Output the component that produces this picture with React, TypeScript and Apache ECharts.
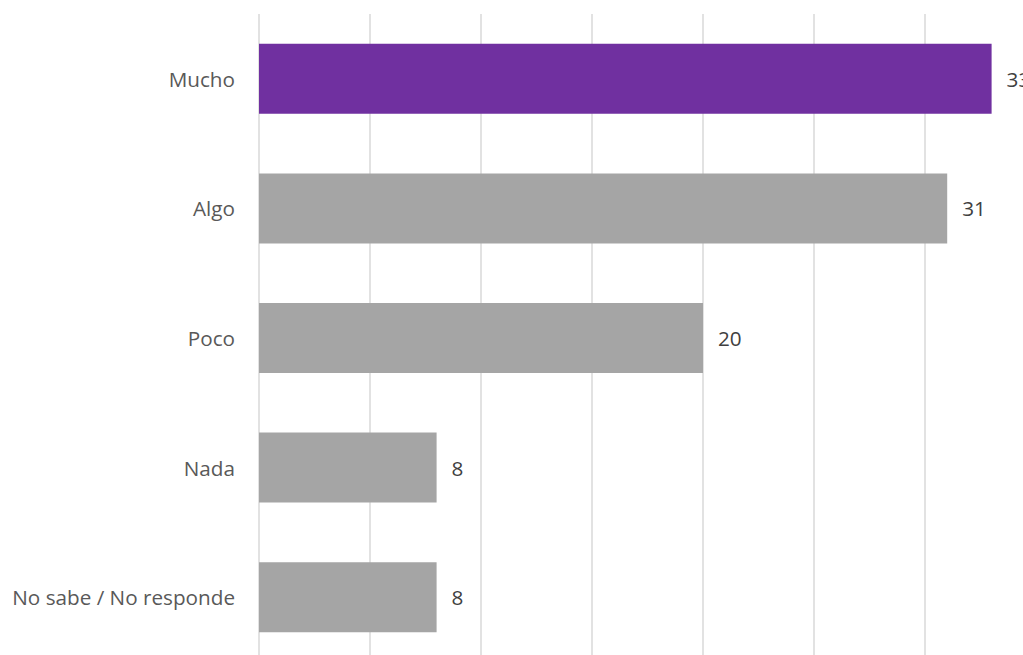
import React, { useEffect, useRef } from "react";
import * as echarts from "echarts";

const categories = ["Mucho", "Algo", "Poco", "Nada", "No sabe / No responde"];
const values = [33, 31, 20, 8, 8];
const barColors = ["#7030A0", "#A5A5A5", "#A5A5A5", "#A5A5A5", "#A5A5A5"];
const axisMax = 35;
const axisInterval = 5;

export default function App() {
  const ref = useRef<HTMLDivElement>(null);
  useEffect(() => {
    if (!ref.current) return;
    const chart = echarts.init(ref.current, undefined, { renderer: "svg" });
    chart.setOption({
      animation: false,
      backgroundColor: "#ffffff",
      grid: { left: 259, top: 14, width: 777, height: 648, outerBoundsMode: "none", containLabel: false },
      xAxis: {
        type: "value",
        min: 0,
        max: axisMax,
        interval: axisInterval,
        axisLabel: { show: false },
        axisLine: { show: false },
        axisTick: { show: false },
        splitLine: { show: true, lineStyle: { color: "#D9D9D9", width: 1.5 } },
      },
      yAxis: {
        type: "category",
        inverse: true,
        data: categories,
        axisLine: { show: false },
        axisTick: { show: false },
        axisLabel: {
          margin: 24,
          color: "#595959",
          fontSize: 20.7,
          fontFamily: "Open Sans",
        },
      },
      series: [
        {
          type: "bar",
          barWidth: 70,
          data: values.map((v, i) => ({ value: v, itemStyle: { color: barColors[i] } })),
          label: {
            show: true,
            position: "right",
            distance: 15,
            color: "#404040",
            fontSize: 20.7,
            fontFamily: "Open Sans",
          },
        },
      ],
    });
    return () => chart.dispose();
  }, []);
  return (
    <div
      ref={ref}
      style={{ position: "fixed", left: 0, top: 0, width: 1023, height: 655, overflow: "hidden" }}
    />
  );
}
